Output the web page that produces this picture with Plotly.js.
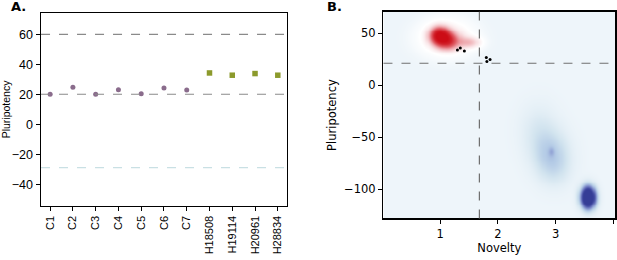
<!DOCTYPE html>
<html>
<head>
<meta charset="utf-8">
<script src="https://cdn.plot.ly/plotly-3.0.1.min.js"></script>
<style>html,body{margin:0;padding:0;background:#fff}#chart{width:617px;height:260px}</style>
</head>
<body>
<div id="chart"></div>
<script>
// Panel A data
var categories = ["C1","C2","C3","C4","C5","C6","C7","H18508","H19114","H20961","H28834"];
var cellLines = ["C1","C2","C3","C4","C5","C6","C7"];
var cellValues = [20, 24.7, 20, 23, 20.4, 24.2, 22.9];
var hLines = ["H18508","H19114","H20961","H28834"];
var hValues = [34.2, 32.7, 33.8, 32.7];
var grayRefLines = [60, 20];
var lightRefLine = -29;
var yTicksA = [-40, -20, 0, 20, 40, 60];

// Panel B data
var noveltyThreshold = 1.68;
var pluriThreshold = 21;
var blackX = [1.30, 1.35, 1.42, 1.80, 1.865, 1.81];
var blackY = [33.6, 35.6, 32.7, 26.4, 24.5, 22.6];
// density components (estimated blobs): centre x, centre y, sd x, sd y, weight
var redCx = [0.98, 1.13, 1.50, 1.10];
var redCy = [48, 43, 41.5, 46];
var redSx = [0.11, 0.13, 0.13, 0.3];
var redSy = [5.5, 5.5, 3.5, 11];
var redW  = [0.85, 0.55, 0.22, 0.16];
var blueCx = [3.555, 2.92, 2.90, 2.70, 2.98];
var blueCy = [-107.5, -63.5, -64, -42, -80];
var blueSx = [0.085, 0.035, 0.22, 0.22, 0.2];
var blueSy = [7, 2.8, 15, 17, 13];
var blueW  = [1.7, 0.12, 0.22, 0.1, 0.11];

var gx = [], gy = [];
for (var i = 0; i <= 220; i++) gx.push(0.0 + i * 4.05 / 220);
for (var j = 0; j <= 220; j++) gy.push(-130 + j * 202 / 220);
function grid(cx, cy, sx, sy, w) {
  var z = [];
  for (var j = 0; j < gy.length; j++) {
    var row = [];
    for (var i = 0; i < gx.length; i++) {
      var s = 0;
      for (var k = 0; k < cx.length; k++) {
        var dx = (gx[i] - cx[k]) / sx[k], dy = (gy[j] - cy[k]) / sy[k];
        s += w[k] * Math.exp(-0.5 * (dx * dx + dy * dy));
      }
      row.push(Math.min(s, 1));
    }
    z.push(row);
  }
  return z;
}

var traces = [
  {x: cellLines, y: cellValues, type: 'scatter', mode: 'markers', xaxis: 'x', yaxis: 'y',
   marker: {color: '#8a6c8c', size: 5, symbol: 'circle'}, hoverinfo: 'skip'},
  {x: hLines, y: hValues, type: 'scatter', mode: 'markers', xaxis: 'x', yaxis: 'y',
   marker: {color: '#8c9a2c', size: 5.5, symbol: 'square'}, hoverinfo: 'skip'},
  {x: gx, y: gy, z: grid(blueCx, blueCy, blueSx, blueSy, blueW), type: 'heatmap', xaxis: 'x2', yaxis: 'y2',
   zmin: 0, zmax: 1, zsmooth: 'best', showscale: false, hoverinfo: 'skip',
   colorscale: [[0, '#eef5fa'], [0.06, '#e4eff6'], [0.15, '#d2e4ef'], [0.28, '#b4cbe6'], [0.5, '#7e8ccb'], [0.8, '#424ba2'], [1, '#353d96']]},
  {x: gx, y: gy, z: grid(redCx, redCy, redSx, redSy, redW), type: 'heatmap', xaxis: 'x2', yaxis: 'y2',
   zmin: 0, zmax: 1, zsmooth: 'best', showscale: false, hoverinfo: 'skip',
   colorscale: [[0, 'rgba(255,255,255,0)'], [0.02, 'rgba(255,255,255,0.5)'], [0.06, 'rgba(255,255,255,1)'], [0.15, '#fae6e8'], [0.3, '#f0b0b5'], [0.5, '#e06068'], [0.75, '#d2242d'], [1, '#cc0c16']]},
  {x: blackX, y: blackY, type: 'scatter', mode: 'markers', xaxis: 'x2', yaxis: 'y2',
   marker: {color: '#000', size: 3}, hoverinfo: 'skip'}
];

var shapes = [];
grayRefLines.forEach(function (v) {
  shapes.push({type: 'line', xref: 'x domain', yref: 'y', x0: 0, x1: 1, y0: v, y1: v,
    line: {color: '#8a8a8a', width: 1.2, dash: 'dash'}});
});
shapes.push({type: 'line', xref: 'x domain', yref: 'y', x0: 0, x1: 1, y0: lightRefLine, y1: lightRefLine,
  line: {color: '#c9e0e4', width: 1.2, dash: 'dash'}});
shapes.push({type: 'line', xref: 'x2', yref: 'y2 domain', x0: noveltyThreshold, x1: noveltyThreshold, y0: 0, y1: 1,
  line: {color: '#707070', width: 1.2, dash: 'dash'}});
shapes.push({type: 'line', xref: 'x2 domain', yref: 'y2', x0: 0, x1: 1, y0: pluriThreshold, y1: pluriThreshold,
  line: {color: '#707070', width: 1.2, dash: 'dash'}});

var fam = 'Liberation Sans, Arial, sans-serif';
var fontAx = {family: fam, size: 11, color: '#000'};
var fontAy = {family: fam, size: 12.5, color: '#000'};
var fontAt = {family: fam, size: 10.5, color: '#000'};
var fontB = {family: 'DejaVu Sans, sans-serif', size: 11.5, color: '#000'};
var layout = {
  width: 617, height: 260,
  margin: {l: 0, r: 0, t: 0, b: 0},
  paper_bgcolor: '#fff', plot_bgcolor: '#fff',
  showlegend: false,
  font: fontAx,
  xaxis: {domain: [0.0665, 0.465], anchor: 'y', type: 'category', categoryorder: 'array', categoryarray: categories,
    range: [-0.4, 10.4], tickangle: -90, ticks: 'outside', ticklen: 4, tickcolor: '#000',
    showline: true, linecolor: '#000', linewidth: 1.5, mirror: true, showgrid: false, zeroline: false,
    tickfont: fontAx},
  yaxis: {domain: [0.208, 0.95], anchor: 'x', range: [-54.5, 74.2], tickvals: yTicksA,
    ticks: 'outside', ticklen: 4, tickcolor: '#000', showline: true, linecolor: '#000', linewidth: 1.5, mirror: true,
    showgrid: false, zeroline: false, tickfont: fontAy,
    title: {text: 'Pluripotency', font: fontAt, standoff: 3}},
  xaxis2: {domain: [0.6215, 0.997], anchor: 'y2', range: [0.02, 4.03], tickvals: [1, 2, 3, 4],
    ticks: 'outside', ticklen: 4, tickcolor: '#000', showline: true, linecolor: '#000', linewidth: 1.5, mirror: true,
    showgrid: false, zeroline: false, tickfont: fontB,
    title: {text: 'Novelty', font: fontB, standoff: 3}},
  yaxis2: {domain: [0.16, 0.955], anchor: 'x2', range: [-128, 70.5], tickvals: [-100, -50, 0, 50],
    ticks: 'outside', ticklen: 4, tickcolor: '#000', showline: true, linecolor: '#000', linewidth: 1.5, mirror: true,
    showgrid: false, zeroline: false, tickfont: fontB,
    title: {text: 'Pluripotency', font: fontB, standoff: 5}},
  shapes: shapes,
  annotations: [
    {text: '<b>A.</b>', xref: 'paper', yref: 'paper', x: 9 / 617, y: 1.01, xanchor: 'left', yanchor: 'top',
      showarrow: false, font: {family: 'DejaVu Sans, sans-serif', size: 13, color: '#000'}},
    {text: '<b>B.</b>', xref: 'paper', yref: 'paper', x: 325 / 617, y: 1.01, xanchor: 'left', yanchor: 'top',
      showarrow: false, font: {family: 'DejaVu Sans, sans-serif', size: 13, color: '#000'}}
  ]
};
Plotly.newPlot('chart', traces, layout, {staticPlot: true, displayModeBar: false});
</script>
</body>
</html>
